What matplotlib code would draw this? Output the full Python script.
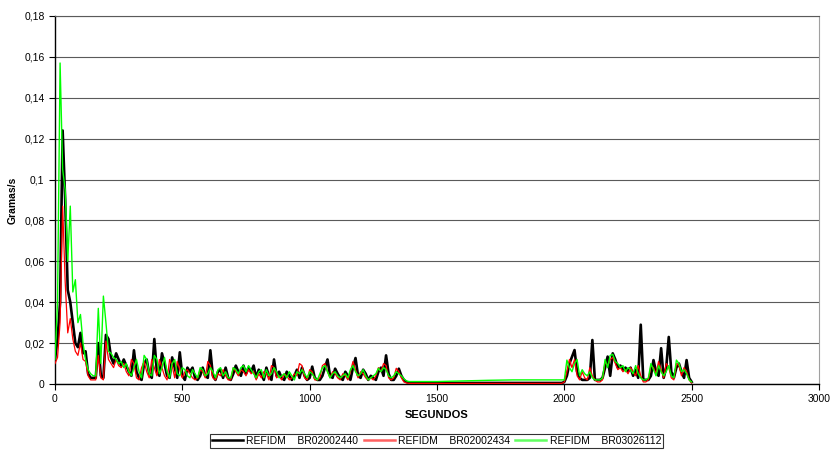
import numpy as np
import matplotlib.pyplot as plt
from matplotlib.ticker import FixedLocator, FuncFormatter

plt.rcParams['font.family'] = ['Liberation Sans', 'DejaVu Sans']

# Tempos (s): trecho inicial, trecho parado e trecho final
tempo_inicio = np.arange(0, 1410, 10)
tempo_plano = [1500, 1600, 1700, 1800, 1900, 1990]
tempo_final = np.arange(2000, 2510, 10)

# REFIDM BR02002440 (g/s)
preto_inicio = [
    0.012, 0.022, 0.040, 0.124, 0.090, 0.046, 0.040, 0.030, 0.020, 0.018,
    0.025, 0.015, 0.016, 0.005, 0.003, 0.003, 0.003, 0.020, 0.004, 0.003,
    0.024, 0.022, 0.013, 0.010, 0.015, 0.012, 0.009, 0.012, 0.009, 0.006,
    0.004, 0.0165, 0.006, 0.003, 0.002, 0.010, 0.012, 0.005, 0.003, 0.022,
    0.006, 0.004, 0.015, 0.010, 0.004, 0.003, 0.013, 0.008, 0.003, 0.0155,
    0.004, 0.002, 0.008, 0.006, 0.008, 0.003, 0.002, 0.004, 0.008, 0.004,
    0.003, 0.0165, 0.004, 0.002, 0.006, 0.007, 0.003, 0.008, 0.003, 0.002,
    0.005, 0.009, 0.006, 0.004, 0.009, 0.005, 0.008, 0.006, 0.009, 0.003,
    0.007, 0.005, 0.002, 0.008, 0.004, 0.002, 0.012, 0.004, 0.006, 0.003,
    0.002, 0.006, 0.004, 0.002, 0.004, 0.007, 0.003, 0.008, 0.004, 0.002,
    0.003, 0.0085, 0.003, 0.002, 0.002, 0.004, 0.008, 0.012, 0.004, 0.003,
    0.0075, 0.005, 0.003, 0.002, 0.006, 0.004, 0.002, 0.008, 0.0127, 0.004,
    0.003, 0.007, 0.005, 0.002, 0.004, 0.003, 0.002, 0.006, 0.008, 0.004,
    0.014, 0.005, 0.002, 0.002, 0.004, 0.0075, 0.004, 0.002, 0.001, 0.0005,
    0.0005]
preto_plano = [0.0005, 0.0005, 0.0005, 0.0005, 0.0005, 0.0005]
preto_final = [
    0.001, 0.004, 0.010, 0.0133, 0.0166, 0.006, 0.003, 0.002, 0.002, 0.002,
    0.003, 0.0215, 0.002, 0.002, 0.002, 0.003, 0.008, 0.0134, 0.004, 0.015,
    0.012, 0.008, 0.009, 0.007, 0.008, 0.006, 0.008, 0.004, 0.007, 0.003,
    0.029, 0.002, 0.002, 0.002, 0.004, 0.0117, 0.006, 0.004, 0.0175, 0.003,
    0.008, 0.023, 0.006, 0.003, 0.008, 0.010, 0.006, 0.003, 0.0117, 0.003,
    0.001]

# REFIDM BR02002434 (g/s)
vermelho_inicio = [
    0.010, 0.013, 0.030, 0.087, 0.050, 0.025, 0.032, 0.022, 0.016, 0.014,
    0.020, 0.012, 0.011, 0.004, 0.002, 0.002, 0.002, 0.014, 0.003, 0.002,
    0.021, 0.012, 0.010, 0.008, 0.012, 0.009, 0.008, 0.010, 0.006, 0.004,
    0.012, 0.010, 0.003, 0.002, 0.008, 0.011, 0.006, 0.003, 0.012, 0.008,
    0.004, 0.012, 0.008, 0.004, 0.002, 0.012, 0.009, 0.003, 0.011, 0.007,
    0.003, 0.006, 0.007, 0.005, 0.003, 0.002, 0.003, 0.007, 0.006, 0.003,
    0.011, 0.009, 0.003, 0.002, 0.005, 0.004, 0.007, 0.004, 0.002, 0.002,
    0.008, 0.006, 0.004, 0.007, 0.006, 0.004, 0.007, 0.005, 0.006, 0.002,
    0.005, 0.003, 0.006, 0.005, 0.002, 0.009, 0.008, 0.003, 0.004, 0.002,
    0.005, 0.004, 0.002, 0.003, 0.005, 0.004, 0.010, 0.009, 0.003, 0.002,
    0.007, 0.006, 0.002, 0.002, 0.003, 0.009, 0.010, 0.006, 0.003, 0.006,
    0.005, 0.003, 0.002, 0.005, 0.004, 0.002, 0.006, 0.011, 0.007, 0.003,
    0.006, 0.005, 0.003, 0.002, 0.003, 0.002, 0.004, 0.008, 0.006, 0.010,
    0.009, 0.003, 0.002, 0.003, 0.0077, 0.006, 0.003, 0.001, 0.0005, 0.0003,
    0.0003]
vermelho_plano = [0.0003, 0.0003, 0.0003, 0.0003, 0.0003, 0.0003]
vermelho_final = [
    0.001, 0.006, 0.012, 0.008, 0.012, 0.004, 0.002, 0.006, 0.003, 0.002,
    0.008, 0.004, 0.002, 0.001, 0.001, 0.002, 0.011, 0.009, 0.012, 0.013,
    0.010, 0.007, 0.008, 0.006, 0.007, 0.005, 0.008, 0.006, 0.004, 0.009,
    0.004, 0.001, 0.001, 0.002, 0.009, 0.008, 0.005, 0.011, 0.007, 0.003,
    0.010, 0.008, 0.003, 0.002, 0.010, 0.009, 0.004, 0.008, 0.006, 0.002,
    0.0005]

# REFIDM BR03026112 (g/s)
verde_inicio = [
    0.012, 0.040, 0.157, 0.105, 0.095, 0.060, 0.087, 0.045, 0.051, 0.030,
    0.034, 0.020, 0.012, 0.007, 0.005, 0.004, 0.004, 0.037, 0.010, 0.043,
    0.030, 0.016, 0.015, 0.013, 0.012, 0.010, 0.011, 0.008, 0.010, 0.006,
    0.004, 0.008, 0.012, 0.006, 0.003, 0.014, 0.012, 0.005, 0.004, 0.014,
    0.012, 0.005, 0.008, 0.013, 0.006, 0.003, 0.010, 0.012, 0.005, 0.004,
    0.008, 0.007, 0.004, 0.003, 0.007, 0.005, 0.003, 0.008, 0.007, 0.004,
    0.005, 0.008, 0.006, 0.003, 0.007, 0.008, 0.004, 0.006, 0.003, 0.003,
    0.008, 0.007, 0.005, 0.008, 0.009, 0.006, 0.009, 0.007, 0.005, 0.003,
    0.006, 0.007, 0.003, 0.007, 0.004, 0.005, 0.008, 0.006, 0.003, 0.004,
    0.005, 0.003, 0.006, 0.004, 0.002, 0.006, 0.005, 0.007, 0.005, 0.003,
    0.006, 0.005, 0.003, 0.002, 0.005, 0.008, 0.009, 0.006, 0.003, 0.005,
    0.006, 0.004, 0.003, 0.004, 0.005, 0.003, 0.007, 0.009, 0.006, 0.004,
    0.005, 0.007, 0.004, 0.002, 0.003, 0.004, 0.005, 0.0077, 0.006, 0.008,
    0.007, 0.004, 0.003, 0.004, 0.006, 0.005, 0.004, 0.0025, 0.0015, 0.0012,
    0.0012]
verde_plano = [0.0012, 0.0015, 0.0018, 0.002, 0.002, 0.002]
verde_final = [
    0.002, 0.0117, 0.008, 0.006, 0.010, 0.012, 0.004, 0.007, 0.005, 0.004,
    0.006, 0.003, 0.002, 0.002, 0.002, 0.003, 0.012, 0.008, 0.014, 0.0145,
    0.011, 0.010, 0.008, 0.009, 0.006, 0.008, 0.007, 0.005, 0.009, 0.005,
    0.003, 0.002, 0.002, 0.003, 0.010, 0.007, 0.004, 0.009, 0.006, 0.004,
    0.006, 0.009, 0.004, 0.003, 0.0117, 0.010, 0.006, 0.007, 0.005, 0.002,
    0.001]

rotulos = ['REFIDM    BR02002440', 'REFIDM    BR02002434', 'REFIDM    BR03026112']

tempo = np.concatenate([tempo_inicio, tempo_plano, tempo_final])
preto = np.concatenate([preto_inicio, preto_plano, preto_final])
vermelho = np.concatenate([vermelho_inicio, vermelho_plano, vermelho_final])
verde = np.concatenate([verde_inicio, verde_plano, verde_final])

fig = plt.figure(figsize=(8.32, 4.54), dpi=100)
ax = fig.add_axes([0.0661, 0.1542, 0.9183, 0.8106])

ax.plot(tempo, preto, color='black', lw=1.9, label=rotulos[0], zorder=3)
ax.plot(tempo, vermelho, color='#ff0000', lw=0.9, label=rotulos[1], zorder=4)
ax.plot(tempo, verde, color='#00ff00', lw=1.0, label=rotulos[2], zorder=5)

ax.set_xlim(0, 3000)
ax.set_ylim(0, 0.18)
ax.xaxis.set_major_locator(FixedLocator(np.arange(0, 3001, 500)))
ax.yaxis.set_major_locator(FixedLocator(np.arange(0, 0.181, 0.02)))
ax.yaxis.set_major_formatter(FuncFormatter(
    lambda v, p: ('%g' % round(v, 2)).replace('.', ',')))

ax.grid(axis='y', color='#5a5a5a', lw=0.8, zorder=1)
ax.tick_params(direction='out', length=4, width=0.8, labelsize=7.5, colors='black')
for lado in ['left', 'bottom']:
    ax.spines[lado].set_color('black')
    ax.spines[lado].set_linewidth(1.0)
ax.spines['right'].set_color('#a0a0a0')
ax.spines['top'].set_color('#5a5a5a')
ax.spines['right'].set_linewidth(0.8)

ax.set_xlabel('SEGUNDOS', fontsize=8, fontweight='bold', labelpad=4)
ax.set_ylabel('Gramas/s', fontsize=7.5, fontweight='bold')
ax.yaxis.set_label_coords(-0.049, 0.5)

leg = fig.legend(loc='center', bbox_to_anchor=(0.5247, 0.029), ncol=3,
                 fontsize=7.5, frameon=True, fancybox=False, borderpad=0.2,
                 handlelength=3.0, handletextpad=0.3, columnspacing=0.5,
                 borderaxespad=0)
leg.get_frame().set_edgecolor('black')
leg.get_frame().set_linewidth(0.8)
for h in leg.get_lines():
    h.set_linewidth(1.8)
leg.get_lines()[1].set_color('#ff6060')
leg.get_lines()[2].set_color('#60ff60')

fig.savefig('out.png', dpi=100)
